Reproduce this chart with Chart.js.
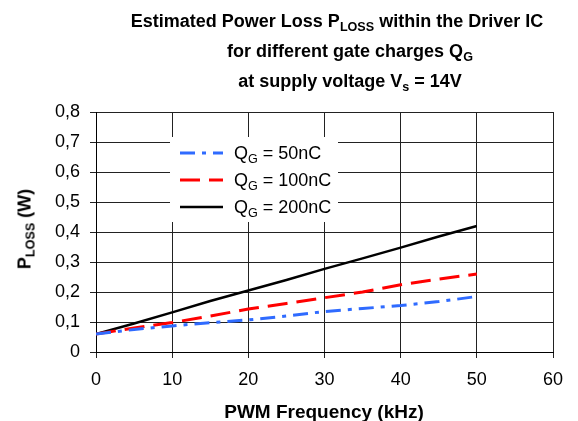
<!DOCTYPE html>
<html>
<head>
<meta charset="utf-8">
<script src="https://cdn.jsdelivr.net/npm/chart.js@4/dist/chart.umd.min.js"></script>
<style>
  body { margin: 0; background: #fff; }
  #wrap { position: relative; width: 578px; height: 421px; font-family: 'Liberation Sans', Arial, sans-serif; color: #000; }
  canvas { position: absolute; left: 0; top: 0; }
  .title { position: absolute; width: 500px; text-align: center; font-weight: bold; font-size: 18px; line-height: 30px; white-space: nowrap; }
  .sub { font-size: 0.7em; position: relative; top: 0.3em; }
  .ytitle { position: absolute; left: 25px; top: 229px; transform: translate(-50%, -50%) rotate(-90deg); font-weight: bold; font-size: 18px; white-space: nowrap; }
  .xtitle { position: absolute; left: 324px; top: 412px; transform: translate(-50%, -50%); font-weight: bold; font-size: 19px; white-space: nowrap; }
  .leg { position: absolute; left: 234px; font-size: 18px; transform: translateY(-50%); white-space: nowrap; }
</style>
</head>
<body>
<div id="wrap">
  <canvas id="chart" width="578" height="421"></canvas>
  <div class="title" style="left:87px; top:6px">Estimated Power Loss P<span class="sub">LOSS</span> within the Driver IC</div>
  <div class="title" style="left:100px; top:36px">for different gate charges Q<span class="sub">G</span></div>
  <div class="title" style="left:100px; top:66px">at supply voltage V<span class="sub">s</span> = 14V</div>
  <div class="ytitle">P<span class="sub">LOSS</span> (W)</div>
  <div class="xtitle">PWM Frequency (kHz)</div>
  <div class="leg" style="top:153px">Q<span class="sub">G</span> = 50nC</div>
  <div class="leg" style="top:180px">Q<span class="sub">G</span> = 100nC</div>
  <div class="leg" style="top:207px">Q<span class="sub">G</span> = 200nC</div>
</div>
<script>
// PWM-Frequenz (kHz) und Verlustleistung (W)
const freq = [0, 5, 10, 15, 20, 25, 30, 35, 40, 45, 50];
const qg50 = [0.06, 0.075, 0.087, 0.098, 0.107, 0.12, 0.135, 0.145, 0.155, 0.168, 0.185];
const qg100 = [0.06, 0.08, 0.098, 0.12, 0.143, 0.162, 0.181, 0.2, 0.224, 0.243, 0.26];
const qg200 = [0.06, 0.095, 0.132, 0.17, 0.205, 0.24, 0.277, 0.312, 0.348, 0.385, 0.42];

const seriesStyles = [
    { color: '#2f6bff', width: 3, dash: [15, 7, 4, 7] },
    { color: '#ff0000', width: 3, dash: [20, 9] },
    { color: '#000000', width: 2.5, dash: [] }
];

function toPoints(ys) {
    return freq.map((f, i) => ({ x: f, y: ys[i] }));
}

// white legend box with line samples (labels are HTML)
const legendBox = {
    id: 'legendBox',
    afterDraw(chart) {
        const ctx = chart.ctx;
        ctx.save();
        ctx.fillStyle = '#fff';
        ctx.fillRect(170, 137, 168, 85);
        const rows = [153, 180, 207];
        seriesStyles.forEach((s, i) => {
            ctx.strokeStyle = s.color;
            ctx.lineWidth = s.width;
            ctx.setLineDash(s.dash);
            ctx.beginPath();
            ctx.moveTo(180, rows[i]);
            ctx.lineTo(223, rows[i]);
            ctx.stroke();
        });
        ctx.restore();
    }
};

const ctx = document.getElementById('chart').getContext('2d');
new Chart(ctx, {
    type: 'line',
    data: {
        datasets: [qg50, qg100, qg200].map((ys, i) => ({
            data: toPoints(ys),
            borderColor: seriesStyles[i].color,
            borderWidth: seriesStyles[i].width,
            borderDash: seriesStyles[i].dash,
            pointRadius: 0,
            tension: 0,
            fill: false
        }))
    },
    options: {
        responsive: false,
        animation: false,
        layout: { padding: { left: 0, right: 25, top: 112, bottom: 0 } },
        plugins: { legend: { display: false }, title: { display: false }, tooltip: { enabled: false } },
        scales: {
            x: {
                type: 'linear',
                min: 0,
                max: 60,
                afterFit(scale) { scale.height = 69; },
                ticks: {
                    stepSize: 10,
                    padding: 11,
                    color: '#000',
                    font: { family: "'Liberation Sans', Arial", size: 18 }
                },
                grid: { color: '#222', lineWidth: 1, tickLength: 6, drawTicks: true },
                border: { color: '#000', width: 1 }
            },
            y: {
                min: 0,
                max: 0.8,
                afterFit(scale) { scale.width = 96; },
                ticks: {
                    stepSize: 0.1,
                    padding: 10,
                    color: '#000',
                    font: { family: "'Liberation Sans', Arial", size: 18 },
                    callback: v => v === 0 ? '0' : v.toFixed(1).replace('.', ',')
                },
                grid: { color: '#222', lineWidth: 1, tickLength: 6, drawTicks: true },
                border: { color: '#000', width: 1 }
            }
        }
    },
    plugins: [legendBox]
});
</script>
</body>
</html>
